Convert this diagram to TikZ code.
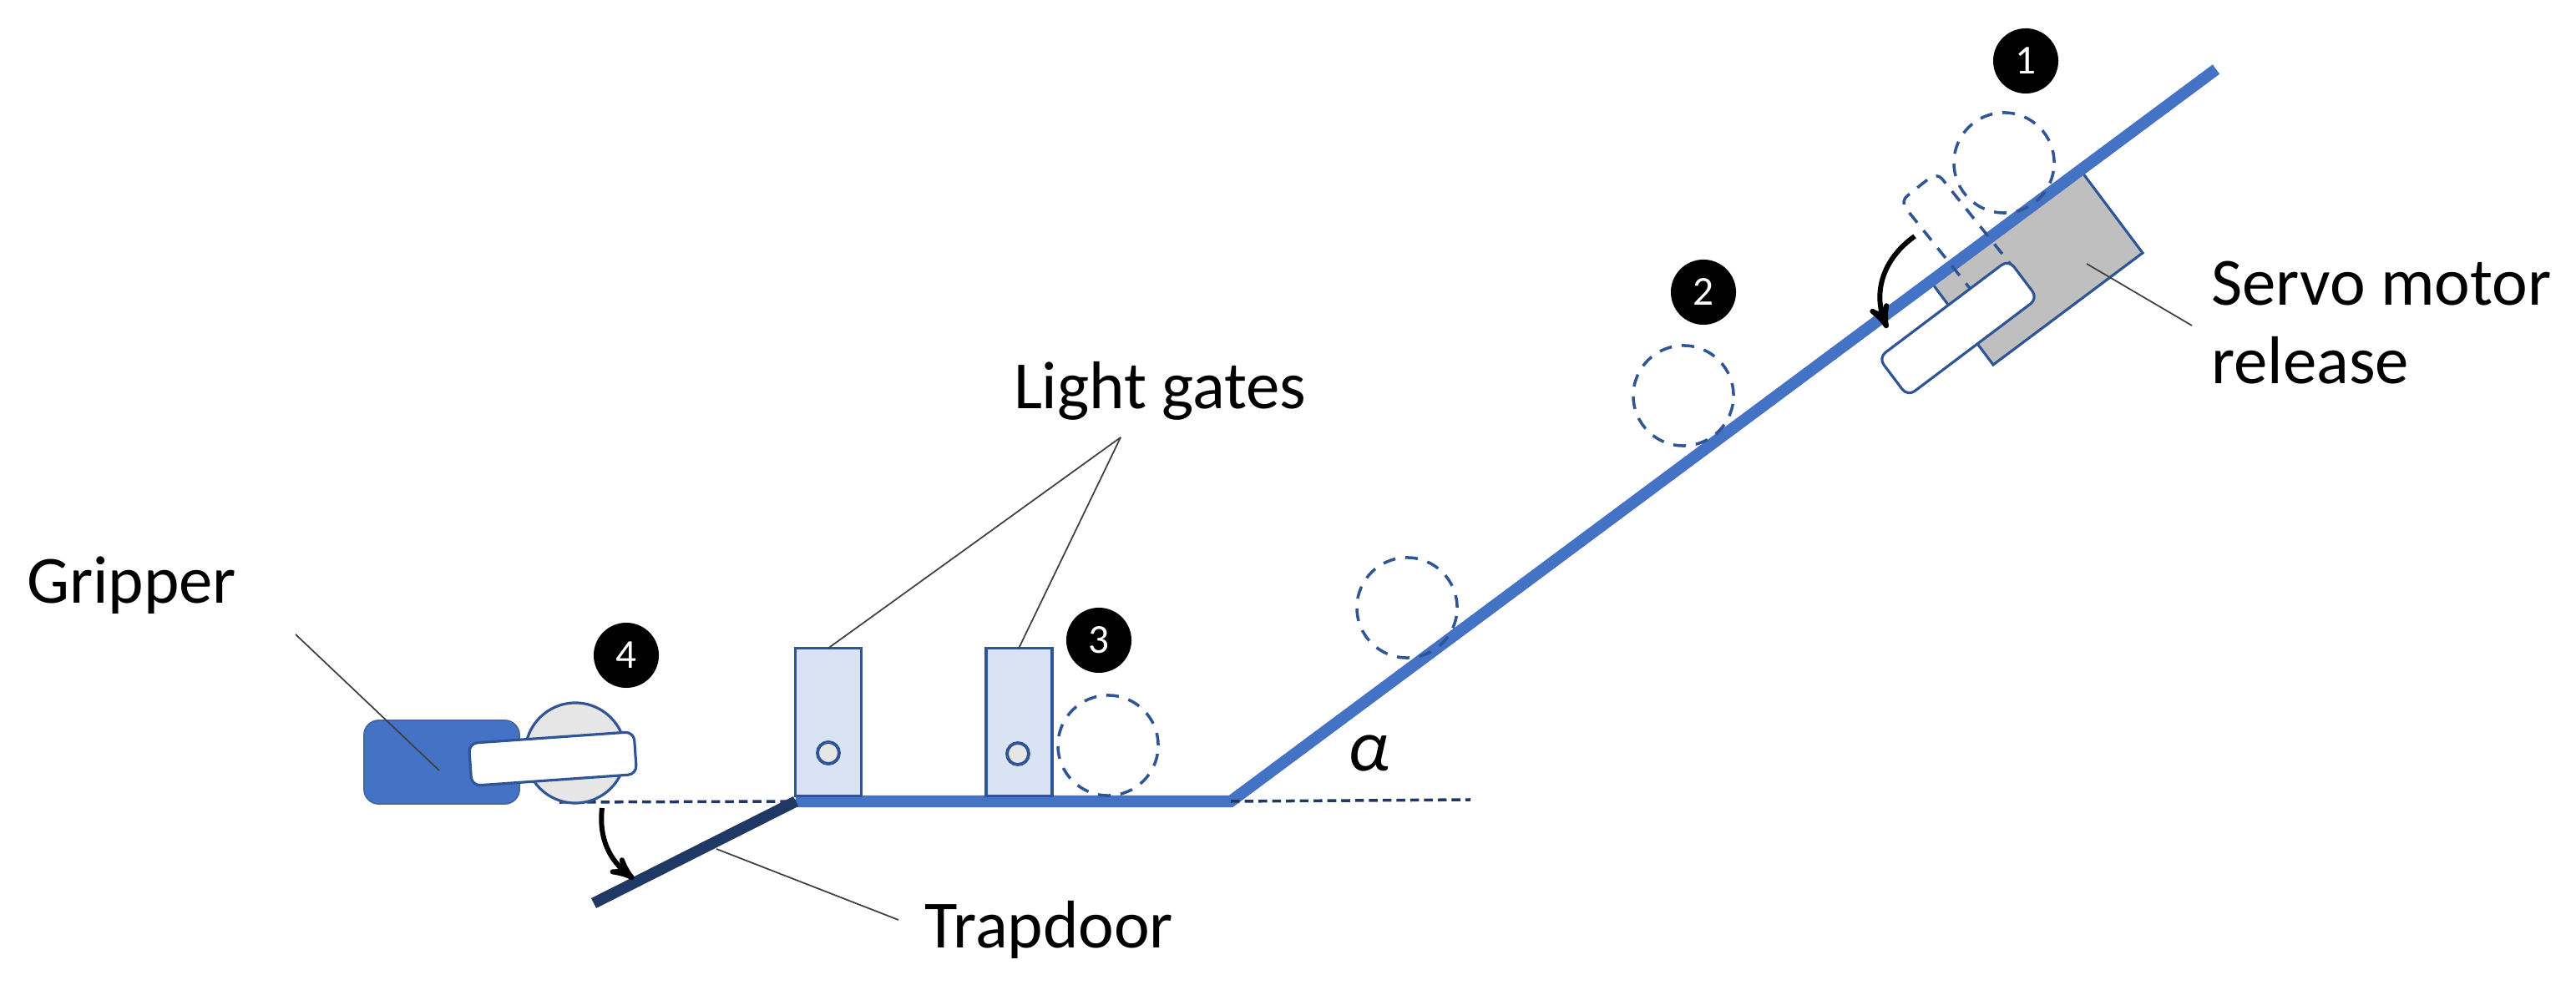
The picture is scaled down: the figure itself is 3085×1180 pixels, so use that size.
\documentclass[tikz,border=0pt]{standalone}
\usepackage{fontspec}
\setmainfont{Carlito}
\usepackage{xcolor}
\usetikzlibrary{arrows, positioning}
\definecolor{rampblue}{HTML}{4472C4}
\definecolor{edgeblue}{HTML}{2F5597}
\definecolor{navy}{HTML}{1F3864}
\definecolor{gatefill}{HTML}{DAE3F3}
\definecolor{lightgrey}{HTML}{E7E6E6}
\definecolor{servogrey}{HTML}{BFBFBF}
\tikzstyle{every node}=[font=\fontsize{23}{27}\selectfont, inner sep=0pt, outer sep=0pt]
\tikzstyle{badge} = [circle, fill=black, text=white, minimum size=0.78cm, font=\fontsize{14}{16}\selectfont]
\tikzstyle{ball} = [circle, draw=edgeblue, line width=1pt, dash pattern=on 4.3pt off 3.4pt, minimum size=1.2cm]
\tikzstyle{gate} = [rectangle, draw=edgeblue, fill=gatefill, line width=1.1pt, minimum width=0.79cm, minimum height=1.77cm]
\tikzstyle{hole} = [circle, draw=edgeblue, fill=lightgrey, line width=1.1pt, minimum size=0.26cm]
\tikzstyle{arm} = [rectangle, draw=edgeblue, fill=white, line width=0.9pt, rounded corners=3pt, minimum width=1.98cm, minimum height=0.58cm]
\tikzstyle{track} = [draw=rampblue, line width=4pt]
\tikzstyle{level} = [draw=navy, line width=1pt, dash pattern=on 3pt off 1.7pt]
\tikzstyle{line} = [draw=black!75, line width=0.5pt]
\tikzstyle{swing} = [draw=black, line width=1.7pt, -stealth']
\begin{document}
\begin{tikzpicture}[x=0.01cm,y=-0.01cm]
    \useasboundingbox (0,0) rectangle (3085,1180);
    % Place coordinates
    \coordinate (hinge) at (953,960);
    \coordinate (foot) at (1474,960);
    \coordinate (top) at (2654,83);
    \coordinate (flap) at (711,1082);
    \coordinate (levelend) at (1761,958);
    \coordinate (gripperstart) at (670,961);
    \coordinate (lightapex) at (1342,524);
    \coordinate (gripperend) at (354,760);
    \coordinate (gripperin) at (526,923);
    \coordinate (trapin) at (858,1017);
    \coordinate (trapend) at (1076,1102);
    \coordinate (servoin) at (2499,316);
    \coordinate (servoend) at (2625,390);
    \coordinate (swingA) at (2293,283);
    \coordinate (swingB) at (2260,393);
    \coordinate (swingC) at (721,968);
    \coordinate (swingD) at (759,1053);
    % Servo and ramp
    \fill [servogrey] (2494,207) -- (2566,303) -- (2387,437) -- (2315,341) -- cycle;
    \draw [edgeblue, line width=0.9pt] (2494,207) -- (2566,303) -- (2387,437) -- (2315,341);
    \path [track] (hinge) -- (foot) -- (top);
    \path [draw=navy, line width=3.8pt] (hinge) -- (flap);
    \path [level] (foot) -- (levelend);
    \path [level] (gripperstart) -- (hinge);
    % Place nodes
    \node [ball] (ballA) at (2400,195) {};
    \node [ball] (ballB) at (2016,474) {};
    \node [ball] (ballC) at (1685,728) {};
    \node [ball] (ballD) at (1327,893) {};
    \node [arm, fill=none, line width=1pt, dash pattern=on 4.3pt off 3.4pt, rotate=-51.3, minimum width=1.9cm, minimum height=0.56cm] (armopen) at (2357,298) {};
    \node [arm, rotate=37, minimum width=1.95cm] (armshut) at (2345,393) {};
    \node [badge] (stepA) at (2426,73) {1};
    \node [badge] (stepB) at (2040,350) {2};
    \node [badge] (stepC) at (1316,767) {3};
    \node [badge] (stepD) at (750,785) {4};
    \node [gate] (gateA) at (992,865) {};
    \node [gate, right=1.49cm of gateA] (gateB) {};
    \node [hole] (holeA) at (992,902) {};
    \node [hole] (holeB) at (1219,903) {};
    \node [rectangle, fill=rampblue, draw=edgeblue!90, line width=0.5pt, rounded corners=5pt, minimum width=1.86cm, minimum height=1cm] (gripper) at (529,913) {};
    \node [circle, draw=edgeblue, fill=lightgrey, line width=0.9pt, minimum size=1.2cm] (ballE) at (689,902) {};
    \node [arm, rotate=4, minimum height=0.51cm] (armgrip) at (662,909) {};
    \node [anchor=base west] (gripperlabel) at (32,723) {Gripper};
    \node [anchor=base west] (trapdoorlabel) at (1107,1135) {Trapdoor};
    \node [anchor=base west] (gateslabel) at (1214,490) {Light gates};
    \node [anchor=base west, align=left] (servolabel) at (2648,460) {Servo motor\\release};
    \node [anchor=base west, font=\fontsize{25}{27}\itshape] (anglelabel) at (1614,924) {α};
    % Draw edges
    \path [line] (lightapex) -- (gateA.north);
    \path [line] (lightapex) -- (gateB.north);
    \path [line] (gripperend) -- (gripperin);
    \path [line] (trapin) -- (trapend);
    \path [line] (servoin) -- (servoend);
    \path [swing] (swingA) .. controls (2255,310) and (2243,350) .. (swingB);
    \path [swing] (swingC) .. controls (717,1005) and (730,1030) .. (swingD);
\end{tikzpicture}
\end{document}
